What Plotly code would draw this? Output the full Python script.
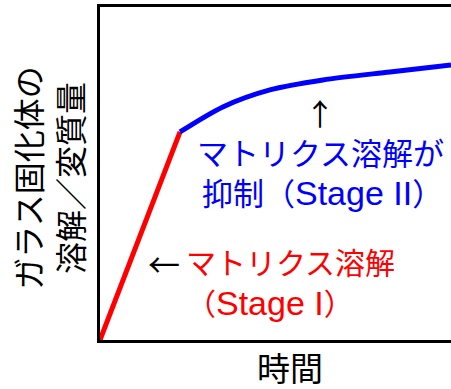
import plotly.graph_objects as go

# Stage I: linear matrix dissolution
stage1_time = [0, 22.8]
stage1_amount = [0, 62.5]

# Stage II: dissolution slowed down
stage2_time = [22.8, 35.0, 48.4, 63.5, 82.6, 100]
stage2_amount = [62.5, 70.0, 75.1, 78.1, 80.5, 82.6]

FONT = "Liberation Sans, Noto Sans CJK JP, sans-serif"
CJK = "Noto Sans CJK JP, sans-serif"


def latin(s):
    # latin part is drawn a bit bigger, like Arial next to a CJK font
    return '<span style="font-size:34px">' + s + '</span>'


fig = go.Figure()

fig.add_trace(go.Scatter(
    x=stage1_time, y=stage1_amount, mode='lines',
    line=dict(color='#ff0000', width=5), cliponaxis=False, showlegend=False
))
fig.add_trace(go.Scatter(
    x=stage2_time, y=stage2_amount, mode='lines',
    line=dict(color='#0000ff', width=5, shape='spline', smoothing=0.8),
    cliponaxis=False, showlegend=False
))

annotations = [
    # axis titles (paper coords)
    dict(x=-0.138, y=0.486, xref='paper', yref='paper', text='ガラス固化体の<br>溶解／変質量',
         textangle=-90, font=dict(size=32, color='black', family=FONT)),
    dict(x=0.541, y=-0.09, xref='paper', yref='paper', text='時間',
         font=dict(size=33, color='black', family=FONT)),
    # labels in the plot
    dict(x=62.7, y=55.6, text='マトリクス溶解が', font=dict(size=31, color='#0000ff', family=FONT)),
    dict(x=63.5, y=44.1, text='抑制（' + latin('Stage II') + '）',
         font=dict(size=31, color='#0000ff', family=FONT)),
    dict(x=62.7, y=68.5, text='↑', font=dict(size=30, color='black', family=CJK)),
    dict(x=18.3, y=23.1, text='←', font=dict(size=32, color='black', family=CJK)),
    dict(x=24.0, y=23.1, xanchor='left', text='マトリクス溶解',
         font=dict(size=30, color='#ff0000', family=FONT)),
    dict(x=48.4, y=11.1, text='（' + latin('Stage I') + '）',
         font=dict(size=30, color='#ff0000', family=FONT)),
]
for a in annotations:
    a.setdefault('xref', 'x')
    a.setdefault('yref', 'y')
    a.setdefault('xanchor', 'center')
    a['yanchor'] = 'middle'
    a['showarrow'] = False

fig.update_layout(
    width=451, height=389,
    margin=dict(l=100, r=0, t=7, b=49),
    plot_bgcolor='white', paper_bgcolor='white',
    xaxis=dict(range=[0, 100], showline=True, linecolor='black', linewidth=3, mirror=True,
               showgrid=False, zeroline=False, showticklabels=False, ticks=''),
    yaxis=dict(range=[0, 100], showline=True, linecolor='black', linewidth=3,
               showgrid=False, zeroline=False, showticklabels=False, ticks=''),
    annotations=annotations,
)

fig.write_html("out.html", config={'displayModeBar': False},
               post_script="document.body.style.margin='0';")
